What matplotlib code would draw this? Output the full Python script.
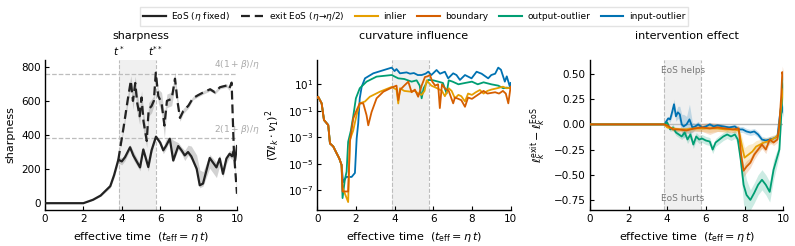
import numpy as np
import matplotlib
matplotlib.use("Agg")
import matplotlib.pyplot as plt
from matplotlib.lines import Line2D

# ---- data ----
t_star = 3.85
t_star2 = 5.77
sharp_hi = 760   # 4(1+beta)/eta
sharp_lo = 380   # 2(1+beta)/eta

eos_t = [0, 2.0, 2.5, 2.9, 3.4, 3.6, 3.82, 4.0, 4.17, 4.43, 4.6, 4.95, 5.12, 5.38, 5.55, 5.78, 6.0, 6.16, 6.3, 6.5,
         6.68, 6.94, 7.11, 7.28, 7.45, 7.62, 7.9, 8.06, 8.23, 8.58, 8.93, 9.1, 9.27, 9.45, 9.62, 9.74, 9.82, 9.9, 10.0]
eos_val = [0, 0, 20, 45, 100, 165, 255, 245, 270, 328, 280, 210, 315, 212, 310, 390, 355, 310, 335, 378,
           250, 335, 310, 280, 300, 275, 202, 105, 115, 265, 210, 262, 172, 262, 290, 275, 305, 250, 335]
eos_err_hi = [0, 0, 3, 5, 10, 15, 20, 20, 20, 15, 25, 20, 15, 25, 20, 10, 15, 20, 40, 10,
              120, 20, 20, 30, 40, 60, 80, 90, 70, 20, 30, 20, 40, 20, 20, 30, 20, 40, 10]
eos_err_lo = [0, 0, 3, 5, 10, 15, 20, 20, 20, 15, 25, 20, 15, 25, 20, 10, 15, 20, 20, 10,
              10, 20, 20, 30, 20, 20, 20, 15, 15, 60, 60, 40, 20, 30, 20, 20, 20, 20, 10]

exit_t = [3.82, 4.1, 4.3, 4.47, 4.58, 4.7, 4.8, 4.93, 5.03, 5.13, 5.3, 5.4, 5.55, 5.67, 5.77, 5.9, 6.07, 6.22,
          6.35, 6.6, 6.77, 6.91, 7.03, 7.2, 7.47, 7.7, 7.95, 8.25, 8.6, 8.85, 9.11, 9.46, 9.6, 9.72, 9.84, 10.0]
exit_val = [255, 450, 600, 718, 600, 705, 590, 510, 620, 480, 365, 550, 570, 600, 765, 628, 590, 455,
            600, 612, 730, 590, 500, 540, 572, 615, 632, 650, 668, 650, 680, 690, 672, 707, 300, 55]
exit_err = [0, 20, 30, 30, 50, 40, 60, 50, 40, 60, 40, 40, 40, 30, 20, 40, 60, 70,
            40, 40, 40, 30, 20, 15, 15, 10, 10, 10, 10, 10, 10, 10, 10, 10, 30, 20]

# curvature influence, log10 values
curv_common_t = [0, 0.05, 0.23, 0.35, 0.57, 0.66, 0.83, 1.0, 1.14, 1.26]
curv_common_log = [0.0, 0.06, -0.44, -1.7, -2.08, -3.47, -3.7, -4.2, -4.6, -5.1]

curv_inlier_t = [1.26, 1.31, 1.6, 1.69, 1.86, 2.04, 2.2, 2.47, 2.72, 3.24, 3.85, 4.1, 4.19, 4.28, 4.5, 4.8, 5.05,
                 5.22, 5.4, 5.55, 5.66, 5.9, 6.2, 6.45, 6.6, 6.8, 6.95, 7.12, 7.3, 7.45, 7.64, 7.8, 8.0, 8.2,
                 8.41, 8.6, 8.8, 9.0, 9.3, 9.6, 9.8, 10.0]
curv_inlier_log = [-5.1, -6.8, -7.9, -3.2, -2.5, -1.3, -0.44, -0.3, 0.06, 0.44, 0.8, 0.6, -0.45, 0.7, 0.5, 0.45, 0.5,
                   0.3, 0.2, 0.5, 1.3, 0.9, 0.7, 0.5, 0.1, 0.7, 0.5, -0.06, 0.2, 0.1, -0.3, 0.3, 0.2, 0.4,
                   0.57, 0.3, 0.5, 0.6, 0.7, 0.82, 0.7, 0.75]

curv_boundary_t = [1.26, 1.31, 1.6, 1.69, 1.86, 2.04, 2.2, 2.38, 2.55, 2.64, 2.81, 3.07, 3.42, 3.85, 4.1, 4.19, 4.3,
                   4.5, 4.71, 4.88, 5.05, 5.22, 5.4, 5.57, 5.7, 5.83, 5.95, 6.1, 6.25, 6.34, 6.45, 6.6, 6.8, 7.03,
                   7.12, 7.3, 7.45, 7.64, 7.8, 8.0, 8.2, 8.4, 8.6, 8.8, 9.0, 9.2, 9.4, 9.6, 9.75, 9.88, 10.0]
curv_boundary_log = [-5.1, -7.1, -7.1, -3.35, -1.6, -0.95, -0.44, -0.44, -1.33, -2.1, -1.1, -0.06, 0.44, 0.75, 0.9,
                     -0.2, 0.6, 0.9, 1.2, 0.4, 0.6, 0.06, 0.9, 1.55, 1.6, 1.7, 1.2, 0.9, 1.0, -0.8, 1.0, 0.7, 0.5,
                     -0.44, 0.0, -0.1, -0.2, -0.7, 0.0, -0.1, 0.1, 0.3, 0.5, 0.3, 0.35, 0.4, 0.3, 0.5, 0.3, -0.44, 0.82]

curv_output_t = [1.26, 1.31, 1.43, 1.52, 1.6, 1.74, 1.86, 2.0, 2.2, 2.55, 3.07, 3.85, 4.19, 4.5, 4.88, 5.14, 5.3,
                 5.4, 5.5, 5.74, 6.0, 6.26, 6.5, 6.69, 6.8, 7.0, 7.3, 7.64, 8.0, 8.3, 8.6, 9.0, 9.36, 9.62, 9.8, 10.0]
curv_output_log = [-5.1, -7.6, -6.2, -5.6, -3.35, -2.5, -1.45, -0.06, 0.7, 1.2, 1.58, 1.7, 1.45, 1.4, 1.2, 1.3, 0.9,
                   -0.06, 0.7, 1.33, 1.3, 1.2, 1.1, 0.3, 1.3, 1.2, 1.0, 1.1, 1.2, 1.0, 1.15, 1.0, 0.9, 0.7, 0.75, 0.7]

curv_input_t = [1.26, 1.34, 1.5, 1.78, 1.95, 2.04, 2.12, 2.2, 2.3, 2.47, 2.9, 3.85, 4.0, 4.1, 4.28, 4.62, 4.8, 5.0,
                5.2, 5.4, 5.6, 5.74, 5.9, 6.17, 6.35, 6.6, 6.77, 7.03, 7.2, 7.38, 7.64, 7.98, 8.24, 8.5, 8.84, 9.0,
                9.2, 9.36, 9.5, 9.7, 9.8, 9.96, 10.0]
curv_input_log = [-5.1, -6.4, -6.0, -6.0, -5.7, -3.1, -1.95, -0.06, 0.82, 1.45, 1.83, 2.26, 2.0, 2.15, 1.83, 1.9, 1.8,
                  1.85, 1.7, 1.7, 1.8, 1.95, 1.7, 2.08, 1.8, 1.95, 1.45, 1.83, 1.7, 1.33, 1.7, 1.45, 1.95, 1.8, 1.45,
                  1.7, 1.8, 2.26, 2.1, 1.2, 1.6, 0.82, 1.1]

# intervention effect
eff_input_t = [0, 3.85, 3.95, 4.05, 4.15, 4.25, 4.35, 4.45, 4.55, 4.65, 4.75, 4.85, 5.0, 5.15, 5.3, 5.45, 5.6, 5.8,
               6.0, 6.2, 6.4, 6.6, 6.9, 7.2, 7.5, 7.7, 7.9, 8.1, 8.3, 8.5, 8.7, 8.9, 9.1, 9.3, 9.5, 9.7, 9.8, 9.9, 10.0]
eff_input = [0, 0, 0.03, 0.06, 0.05, 0.12, 0.2, 0.08, 0.12, 0.1, 0.0, -0.02, 0.0, 0.05, -0.03, -0.02, 0.0, -0.03,
             -0.02, 0.0, -0.02, -0.01, -0.02, -0.03, -0.02, -0.05, -0.05, -0.07, -0.08, -0.07, -0.1, -0.15, -0.16,
             -0.15, -0.14, -0.12, 0.05, 0.2, 0.12]
eff_input_sd = [0, 0, 0.01, 0.02, 0.03, 0.04, 0.05, 0.05, 0.06, 0.08, 0.1, 0.12, 0.08, 0.15, 0.05, 0.03, 0.03, 0.02,
                0.02, 0.02, 0.02, 0.02, 0.02, 0.02, 0.02, 0.03, 0.03, 0.03, 0.03, 0.03, 0.03, 0.03, 0.03, 0.03,
                0.03, 0.03, 0.04, 0.05, 0.05]

eff_output_t = [0, 3.85, 4.0, 4.15, 4.3, 4.45, 4.6, 4.75, 4.9, 5.05, 5.2, 5.35, 5.5, 5.65, 5.8, 6.0, 6.2, 6.35, 6.5,
                6.7, 6.9, 7.1, 7.3, 7.5, 7.65, 7.8, 7.95, 8.1, 8.3, 8.5, 8.7, 8.9, 9.1, 9.3, 9.5, 9.65, 9.8, 9.9, 10.0]
eff_output = [0, 0, 0.02, -0.05, -0.03, -0.08, -0.1, -0.12, -0.08, -0.15, -0.1, -0.2, -0.12, -0.15, -0.14, -0.16,
              -0.17, -0.25, -0.18, -0.15, -0.12, -0.1, -0.12, -0.1, -0.15, -0.35, -0.6, -0.7, -0.75, -0.68, -0.6,
              -0.55, -0.6, -0.67, -0.45, -0.35, -0.25, 0.1, 0.45]
eff_output_sd = [0, 0, 0.01, 0.02, 0.03, 0.03, 0.03, 0.03, 0.04, 0.04, 0.04, 0.04, 0.04, 0.04, 0.04, 0.04, 0.04,
                 0.04, 0.04, 0.04, 0.04, 0.04, 0.04, 0.04, 0.05, 0.1, 0.2, 0.15, 0.1, 0.1, 0.1, 0.1, 0.1, 0.1,
                 0.1, 0.08, 0.05, 0.1, 0.1]

eff_inlier_t = [0, 3.85, 4.0, 4.3, 4.6, 5.0, 5.4, 5.8, 6.2, 6.6, 7.0, 7.4, 7.7, 7.85, 8.0, 8.2, 8.4, 8.6, 8.8, 9.0,
                9.2, 9.4, 9.6, 9.75, 9.85, 9.95, 10.0]
eff_inlier = [0, 0, -0.03, -0.04, -0.05, -0.05, -0.04, -0.04, -0.04, -0.04, -0.05, -0.05, -0.06, -0.2, -0.33, -0.3,
              -0.27, -0.22, -0.2, -0.18, -0.17, -0.15, -0.13, -0.1, 0.1, 0.3, 0.35]
eff_inlier_sd = [0, 0, 0.01, 0.02, 0.02, 0.02, 0.02, 0.03, 0.04, 0.03, 0.03, 0.03, 0.03, 0.08, 0.1, 0.1, 0.08, 0.06,
                 0.05, 0.05, 0.04, 0.04, 0.03, 0.03, 0.05, 0.08, 0.08]

eff_boundary_t = [0, 3.85, 4.0, 4.3, 4.6, 5.0, 5.4, 5.8, 6.2, 6.6, 7.0, 7.4, 7.7, 7.82, 7.95, 8.1, 8.3, 8.5, 8.7,
                  8.9, 9.1, 9.3, 9.5, 9.7, 9.8, 9.9, 9.95, 10.0]
eff_boundary = [0, 0, -0.01, -0.05, -0.05, -0.06, -0.04, -0.03, -0.04, -0.03, -0.04, -0.05, -0.04, -0.3, -0.46,
                -0.42, -0.38, -0.3, -0.25, -0.2, -0.25, -0.15, -0.18, -0.15, 0.0, 0.3, 0.52, 0.48]
eff_boundary_sd = [0, 0, 0.01, 0.02, 0.02, 0.03, 0.03, 0.04, 0.06, 0.04, 0.03, 0.03, 0.03, 0.05, 0.06, 0.06, 0.05,
                   0.05, 0.04, 0.04, 0.04, 0.03, 0.03, 0.03, 0.04, 0.06, 0.06, 0.05]

groups = ["inlier", "boundary", "output-outlier", "input-outlier"]
colors = {"inlier": "#E69F00", "boundary": "#D55E00", "output-outlier": "#009E73", "input-outlier": "#0072B2"}

# ---- figure ----
plt.rcParams['font.size'] = 8
plt.rcParams['axes.linewidth'] = 1.0
plt.rcParams['mathtext.fontset'] = 'dejavusans'

fig = plt.figure(figsize=(7.95, 2.46), dpi=100)
ax1 = fig.add_axes([0.0566, 0.1463, 0.2415, 0.61])
ax2 = fig.add_axes([0.399, 0.1463, 0.2433, 0.61])
ax3 = fig.add_axes([0.742, 0.1463, 0.2432, 0.61])

shade_col = '#f0f0f0'
vline_col = '#bdbdbd'

for ax in (ax1, ax2, ax3):
    ax.axvspan(t_star, t_star2, color=shade_col, zorder=0, lw=0)
    ax.axvline(t_star, color=vline_col, ls='--', lw=0.8, zorder=1)
    ax.axvline(t_star2, color=vline_col, ls='--', lw=0.8, zorder=1)
    ax.spines['top'].set_visible(False)
    ax.spines['right'].set_visible(False)
    ax.tick_params(direction='in', length=3, labelsize=7.5, pad=3)
    ax.set_xlim(0, 10)
    ax.set_xticks([0, 2, 4, 6, 8, 10])
    ax.set_xlabel(r'effective time  $(t_{\rm eff} = \eta\, t)$', fontsize=8)

# sharpness
ax1.axhline(sharp_hi, color=vline_col, ls='--', lw=0.9, zorder=1)
ax1.axhline(sharp_lo, color=vline_col, ls='--', lw=0.9, zorder=1)
ax1.text(10, sharp_hi + 15, r'$4(1+\beta)/\eta$', color='#aaaaaa', fontsize=6.5, ha='center', va='bottom')
ax1.text(10, sharp_lo + 15, r'$2(1+\beta)/\eta$', color='#aaaaaa', fontsize=6.5, ha='center', va='bottom')

eos_val_a = np.array(eos_val)
ax1.fill_between(eos_t, eos_val_a - np.array(eos_err_lo), eos_val_a + np.array(eos_err_hi),
                 color='gray', alpha=0.35, lw=0, zorder=2)
exit_val_a = np.array(exit_val)
ax1.fill_between(exit_t, exit_val_a - np.array(exit_err), exit_val_a + np.array(exit_err),
                 color='gray', alpha=0.35, lw=0, zorder=2)
ax1.plot(eos_t, eos_val, color='#222222', lw=1.6, zorder=3)
ax1.plot(exit_t, exit_val, color='#222222', lw=1.6, ls=(0, (4, 2.2)), zorder=3)
ax1.set_ylim(-40, 840)
ax1.set_yticks([0, 200, 400, 600, 800])
ax1.set_ylabel('sharpness', fontsize=8)
ax1.set_title('sharpness', fontsize=8, pad=15)
trans = ax1.get_xaxis_transform()
ax1.text(t_star, 1.01, r'$t^*$', transform=trans, ha='center', va='bottom', fontsize=7.5)
ax1.text(t_star2, 1.01, r'$t^{**}$', transform=trans, ha='center', va='bottom', fontsize=7.5)

# curvature influence
curv = {
    "input-outlier": (curv_input_t, curv_input_log),
    "output-outlier": (curv_output_t, curv_output_log),
    "inlier": (curv_inlier_t, curv_inlier_log),
    "boundary": (curv_boundary_t, curv_boundary_log),
}
for name, (tt, lv) in curv.items():
    t_all = curv_common_t[:-1] + tt
    v_all = 10.0 ** np.array(curv_common_log[:-1] + lv)
    ax2.plot(t_all, v_all, color=colors[name], lw=1.3, zorder=3)
ax2.set_yscale('log')
ax2.set_ylim(10 ** -8.5, 10 ** 2.84)
ax2.set_yticks([1e1, 1e-1, 1e-3, 1e-5, 1e-7])
ax2.yaxis.set_minor_locator(matplotlib.ticker.NullLocator())
ax2.set_ylabel(r'$(\nabla \ell_k \cdot v_1)^2$', fontsize=8)
ax2.set_title('curvature influence', fontsize=8, pad=15)

# intervention effect
ax3.axhline(0, color='#bbbbbb', lw=1.0, zorder=1)
eff = {
    "input-outlier": (eff_input_t, eff_input, eff_input_sd),
    "output-outlier": (eff_output_t, eff_output, eff_output_sd),
    "inlier": (eff_inlier_t, eff_inlier, eff_inlier_sd),
    "boundary": (eff_boundary_t, eff_boundary, eff_boundary_sd),
}
for name, (tt, mv, sd) in eff.items():
    mv = np.array(mv)
    sd = np.array(sd)
    ax3.fill_between(tt, mv - sd, mv + sd, color=colors[name], alpha=0.2, lw=0, zorder=2)
    ax3.plot(tt, mv, color=colors[name], lw=1.3, zorder=3)
ax3.set_ylim(-0.85, 0.64)
ax3.set_yticks([-0.75, -0.5, -0.25, 0, 0.25, 0.5])
ax3.set_ylabel(r'$\ell_k^{\rm exit} - \ell_k^{\rm EoS}$', fontsize=8)
ax3.set_title('intervention effect', fontsize=8, pad=15)
mid = (t_star + t_star2) / 2
ax3.text(mid, 0.54, 'EoS helps', color='#777777', fontsize=6.5, ha='center', va='center')
ax3.text(mid, -0.74, 'EoS hurts', color='#777777', fontsize=6.5, ha='center', va='center')

handles = [Line2D([], [], color='#222222', lw=1.6),
           Line2D([], [], color='#222222', lw=1.6, ls=(0, (4, 2.2)))]
labels = [r'EoS ($\eta$ fixed)', r'exit EoS ($\eta\!\to\!\eta/2$)']
for g in groups:
    handles.append(Line2D([], [], color=colors[g], lw=1.5))
    labels.append(g)
fig.legend(handles, labels, loc='upper center', bbox_to_anchor=(0.521, 0.99), ncol=6, fontsize=6.5,
           frameon=True, edgecolor='#dddddd', fancybox=False, handlelength=2.5, columnspacing=1.2,
           handletextpad=0.6, borderpad=0.35)

fig.savefig('out.png', dpi=100)
